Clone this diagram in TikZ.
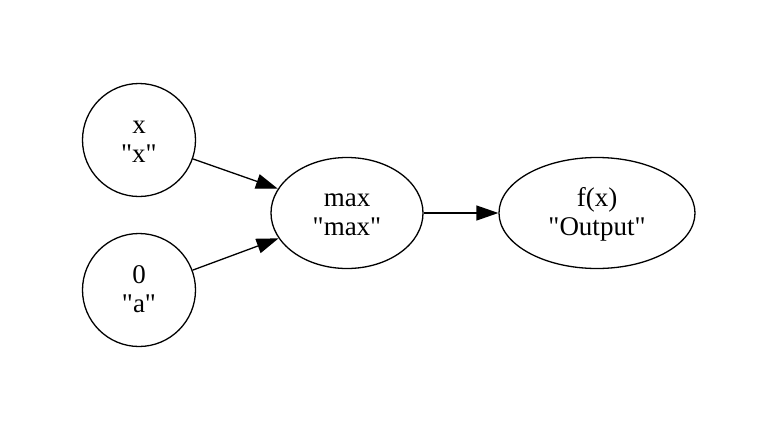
\documentclass[tikz,border=0pt]{standalone}
\usepackage{fontspec}
\newfontfamily\labelfont{Liberation Serif}
\usetikzlibrary{shapes.geometric,arrows.meta}

\begin{document}
\begin{tikzpicture}[x=1pt,y=-1pt,line width=1.3pt,
    vertex/.style={draw,align=center,inner sep=0pt,
      text height=50pt,text depth=6pt,
      font=\labelfont\fontsize{27}{28.5}\selectfont},
    leaf/.style={vertex,circle,minimum size=113pt},
    oval/.style={vertex,ellipse,minimum height=111pt},
    flow/.style={-{Triangle[length=22pt,width=15pt]}}]
      \useasboundingbox (0,0) rectangle (779,429) ;
      \node[leaf] (x) at (139,140) {x\\"x"} ;
      \node[leaf] (a) at (139,290) {0\\"a"} ;
      \node[oval,minimum width=152pt] (max) at (347,213) {max\\"max"} ;
      \node[oval,minimum width=196pt] (out) at (597,213) {f(x)\\"Output"} ;
      \draw[flow] (x) -- (max) ;
      \draw[flow] (a) -- (max) ;
      \draw[flow] (max) -- (out) ;
    \end{tikzpicture}
\end{document}
